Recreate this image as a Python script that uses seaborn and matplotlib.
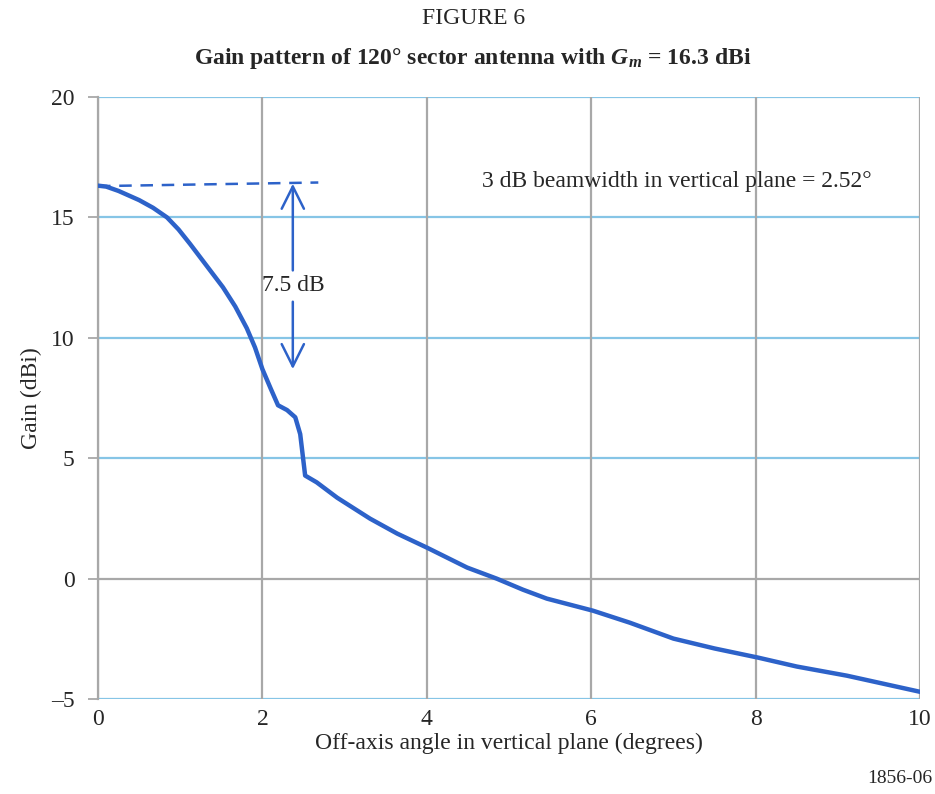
import matplotlib
matplotlib.use('Agg')
import matplotlib.pyplot as plt
import seaborn as sns
import pandas as pd

# Values
angle = [0, 0.1, 0.25, 0.5, 0.67, 0.84, 0.98, 1.12, 1.32, 1.52, 1.67, 1.81,
         1.91, 2.0, 2.1, 2.19, 2.3, 2.4, 2.46, 2.52, 2.66, 2.91, 3.31, 3.64,
         4.0, 4.49, 4.85, 5.17, 5.46, 6.02, 6.47, 7.0, 7.5, 8.03, 8.5, 9.11,
         10.0]
gain = [16.32, 16.28, 16.1, 15.72, 15.4, 15.0, 14.5, 13.9, 13.0, 12.1, 11.3,
        10.4, 9.6, 8.7, 7.9, 7.2, 7.0, 6.7, 6.0, 4.28, 4.0, 3.36, 2.49, 1.87,
        1.29, 0.46, 0.0, -0.46, -0.83, -1.33, -1.83, -2.49, -2.9, -3.28, -3.65,
        -4.03, -4.7]

ref_x = [0, 2.68]          # dashed reference at peak gain
ref_y = [16.3, 16.45]
arrow_x = 2.37
arrow_top = 16.4
arrow_bottom = 8.7
drop_label = '7.5 dB'
beam_note = '3 dB beamwidth in vertical plane = 2.52°'

x_ticks = [0, 2, 4, 6, 8, 10]
y_ticks = [-5, 0, 5, 10, 15, 20]

df = pd.DataFrame({'angle': angle, 'gain': gain})

sns.set_style('white')
plt.rcParams['font.family'] = ['Liberation Serif', 'DejaVu Serif']
plt.rcParams['mathtext.fontset'] = 'custom'
plt.rcParams['mathtext.rm'] = 'Liberation Serif'
plt.rcParams['mathtext.it'] = 'Liberation Serif:italic'
plt.rcParams['mathtext.bf'] = 'Liberation Serif:bold'
plt.rcParams['mathtext.bfit'] = 'Liberation Serif:italic:bold'

line_col = '#2d62c9'
blue_grid = '#86c5e6'
gray_grid = '#a8a8a8'
fs = 17

fig = plt.figure(figsize=(9.35, 7.94), dpi=100)
ax = fig.add_axes([0.1048, 0.1196, 0.8792, 0.7582])

# grid lines: blue horizontals, gray zero line and verticals
for v in y_ticks:
    ax.axhline(v, color=gray_grid if v == 0 else blue_grid, lw=1.6, zorder=1)
for v in x_ticks:
    ax.axvline(v, color=gray_grid, lw=1.6, zorder=1)

sns.lineplot(data=df, x='angle', y='gain', ax=ax, color=line_col, lw=3.2,
             zorder=3, sort=False)
ax.plot(ref_x, ref_y, color=line_col, lw=1.8, ls=(0, (5, 3.5)), zorder=3)

# double arrow with label in the gap
mid = 12.17
ax.text(arrow_x, mid, drop_label, ha='center', va='center', fontsize=fs)
arrow_props = dict(arrowstyle='->', color=line_col, lw=1.8,
                   mutation_scale=40, shrinkA=0, shrinkB=0)
ax.annotate('', xy=(arrow_x, arrow_top), xytext=(arrow_x, 12.8),
            arrowprops=arrow_props)
ax.annotate('', xy=(arrow_x, arrow_bottom), xytext=(arrow_x, 11.5),
            arrowprops=arrow_props)

ax.text(7.04, 16.5, beam_note, ha='center', va='center', fontsize=fs)

ax.set_xlim(0, 10)
ax.set_ylim(-5, 20)
ax.set_xticks(x_ticks)
ax.set_yticks(y_ticks)
ax.set_yticklabels(['\u20135' if v == -5 else str(v) for v in y_ticks])
ax.tick_params(axis='x', length=0, labelsize=fs, pad=7)
ax.tick_params(axis='y', length=7, width=1.3, color=gray_grid, labelsize=fs,
               left=True, pad=10)
for s in ['top', 'right', 'bottom']:
    ax.spines[s].set_visible(False)
ax.spines['left'].set_color(gray_grid)
ax.spines['left'].set_linewidth(1.6)

ax.set_xlabel('Off-axis angle in vertical plane (degrees)', fontsize=fs,
              labelpad=2)
ax.set_ylabel('Gain (dBi)', fontsize=fs, labelpad=6)

fig.text(0.506, 0.977, 'FIGURE 6', ha='center', va='center', fontsize=fs)
fig.text(0.506, 0.926,
         r'Gain pattern of 120° sector antenna with $\mathbfit{G_m}$ = 16.3 dBi',
         ha='center', va='center', fontsize=fs, fontweight='bold')
fig.text(0.997, 0.019, '1856-06', ha='right', va='center', fontsize=14)

fig.savefig('out.png', dpi=100, facecolor='white')
